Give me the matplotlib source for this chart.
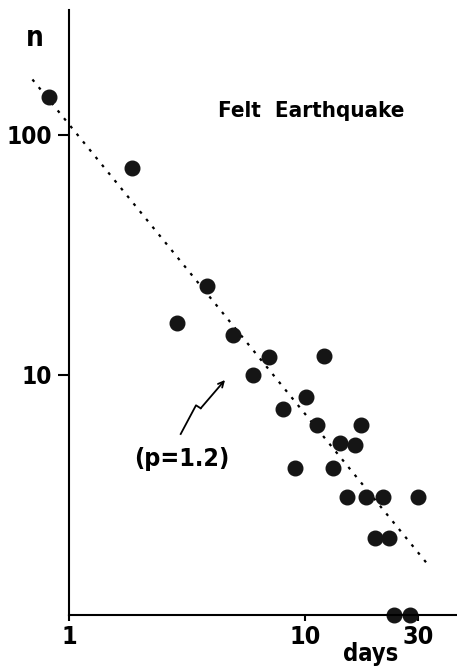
import matplotlib.pyplot as plt
from matplotlib import font_manager
from matplotlib.font_manager import FontProperties
from matplotlib.lines import Line2D

# aftershock counts per day
days = [0.82, 1.84, 2.88, 3.86, 4.97, 6.04, 7.02, 8.05, 9.1, 10.07, 11.2, 12.0,
        13.1, 14.1, 15.1, 16.2, 17.2, 18.1, 19.7, 21.4, 22.7, 23.7, 27.9, 30.1]
counts = [144, 73, 16.5, 23.5, 14.7, 10.0, 11.9, 7.2, 4.1, 8.1, 6.2, 12.0,
          4.1, 5.2, 3.1, 5.1, 6.2, 3.1, 2.1, 3.1, 2.1, 1.0, 1.0, 3.1]

# dotted Omori fit line (p = 1.2), end points
fit_days = [0.70, 33.5]
fit_counts = [170, 1.6]

xticks = [1, 10, 30]
xtick_labels = ["1", "10", "30"]
yticks = [10, 100]
ytick_labels = ["10", "100"]

W, H = 457, 672

# look for a bold narrow / condensed face; fall back to DejaVu Sans Bold
narrow = None
for f in font_manager.fontManager.ttflist:
    bold = f.weight in ("bold", 700, "700") or "Bold" in f.fname
    cond = ("Narrow" in f.name or "Condensed" in f.name or "Condensed" in f.fname
            or f.stretch in ("condensed", "semi-condensed", "extra-condensed"))
    if bold and cond and "Italic" not in f.fname and "Oblique" not in f.fname:
        narrow = f.fname
        break

scale = 1.0 if narrow else 0.85


def font(size):
    if narrow:
        return FontProperties(fname=narrow, size=size * scale)
    return FontProperties(family="DejaVu Sans", weight="bold", size=size * scale)


def px(x, y):
    # image pixel -> figure fraction
    return x / W, 1 - y / H


fig = plt.figure(figsize=(W / 100, H / 100), dpi=100)
ax = fig.add_axes([69 / W, (H - 615) / H, (W - 69) / W, (615 - 10) / H])

ax.set_xscale("log")
ax.set_yscale("log")
ax.set_xlim(1, 44)
ax.set_ylim(1, 331)

ax.plot(fit_days, fit_counts, color="black", lw=1.6,
        linestyle=(0, (1.3, 3.2)), clip_on=False)
ax.plot(days, counts, "o", color="#151515", markersize=10.5, clip_on=False)

for side in ["top", "right"]:
    ax.spines[side].set_visible(False)
for side in ["left", "bottom"]:
    ax.spines[side].set_linewidth(1.5)

ax.minorticks_off()
ax.set_xticks(xticks)
ax.set_xticklabels(xtick_labels, fontproperties=font(18))
ax.set_yticks(yticks)
ax.set_yticklabels(ytick_labels, fontproperties=font(17.5))
ax.tick_params(axis="x", direction="out", length=4, width=1.5, pad=3)
ax.tick_params(axis="y", direction="out", length=8, width=1.5, pad=4)

fig.text(*px(35, 38), "n", ha="center", va="center", fontproperties=font(20))
fig.text(*px(371, 654), "days", ha="center", va="center", fontproperties=font(17))
fig.text(*px(311, 111), "Felt  Earthquake", ha="center", va="center",
         fontproperties=font(16))
fig.text(*px(182, 459), "(p=1.2)", ha="center", va="center",
         fontproperties=font(18))

# squiggly arrow pointing at the fit line
zx = [180.7, 196, 200.7]
zy = [434, 405.3, 408.3]
fig.add_artist(Line2D([px(x, y)[0] for x, y in zip(zx, zy)],
                      [px(x, y)[1] for x, y in zip(zx, zy)],
                      color="black", lw=1.3, transform=fig.transFigure))
fig.add_artist(plt.Annotation("", xy=px(225, 380), xytext=px(200.7, 408.3),
                              xycoords="figure fraction",
                              textcoords="figure fraction",
                              arrowprops=dict(arrowstyle="->", lw=1.3,
                                              color="black",
                                              shrinkA=0, shrinkB=0)))

fig.savefig("out.png", dpi=100)
